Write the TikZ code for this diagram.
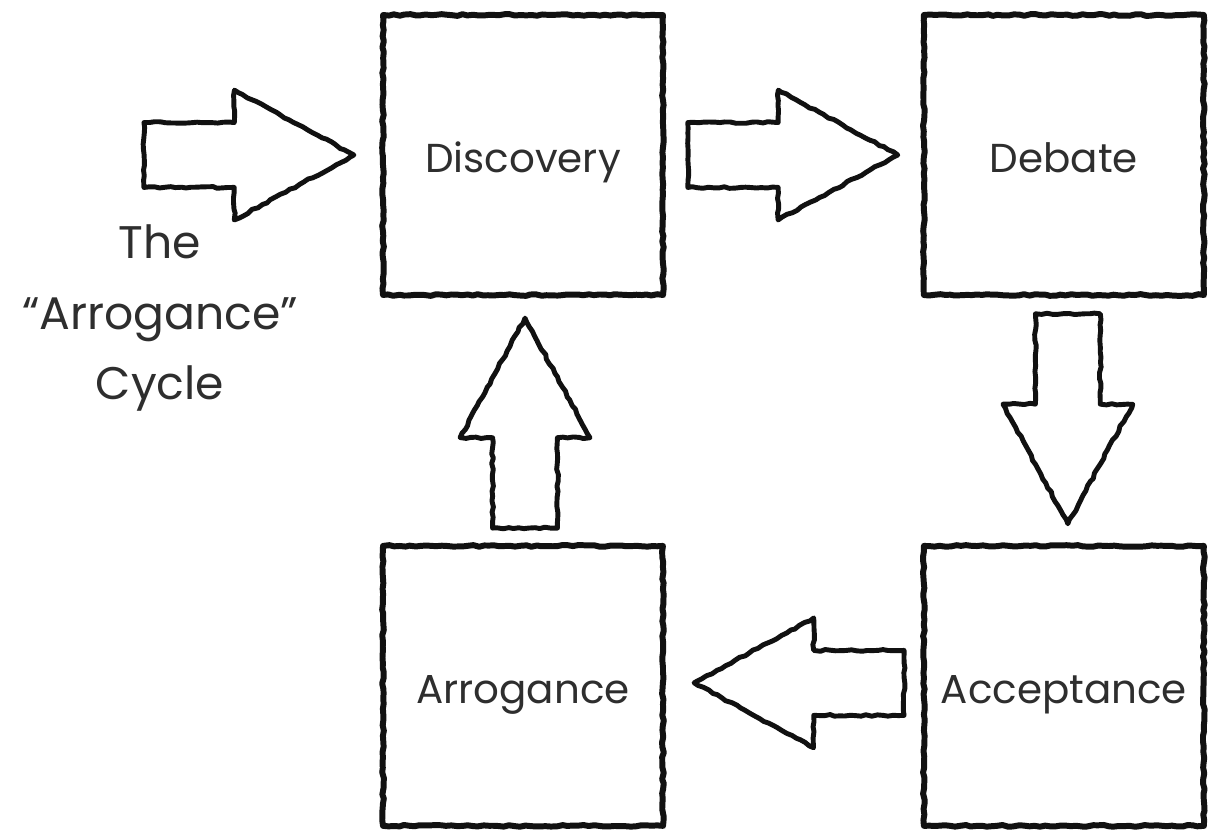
\documentclass[tikz,border=0pt]{standalone}
\usepackage{fontspec}
\setmainfont{Poppins}
\usetikzlibrary{positioning,calc,shapes.arrows,shadows,decorations.pathmorphing}
\definecolor{cInk}{HTML}{111111}
\definecolor{cText}{HTML}{2e2e2e}
\newcommand\boxtxt[1]{\raisebox{-0.36cm}[0pt][0pt]{#1}}
\tikzset{
  rough/.style={decorate,decoration={random steps,segment length=3pt,amplitude=0.5pt}},
  cbox/.style={draw=cInk,line width=3.4pt,line join=round,rough,fill=white,
               minimum width=5.6cm,minimum height=5.6cm,inner sep=0pt,
               text=cText,font=\fontsize{23}{27}\selectfont,
               drop shadow={opacity=0.18,shadow xshift=1.6pt,shadow yshift=-1.6pt}},
  barr/.style={single arrow,draw=cInk,line width=2.8pt,line join=round,rough,fill=white,
               minimum height=4.2cm,minimum width=2.5cm,inner sep=0pt,inner ysep=0.6cm,
               single arrow head extend=0.65cm,single arrow tip angle=57},
  lbl/.style={align=center,text=cText,font=\fontsize{26}{40}\selectfont},
}
\begin{document}
\begin{tikzpicture}[x=0.02cm,y=-0.02cm]
  \useasboundingbox (0,0) rectangle (1211,831);
  % boxes of the cycle
  \node[cbox] (disc) at (523,155) {\boxtxt{Discovery}};
  \node[cbox,right=5.1cm of disc] (deb) {\boxtxt{Debate}};
  \node[cbox,below=4.9cm of deb] (acc) {\boxtxt{Acceptance}};
  \node[cbox,below=4.9cm of disc] (arr) {\boxtxt{Arrogance}};
  % block arrows
  \node[barr,anchor=tip] (a0) at ($(disc.west)+(-0.42cm,0)$) {};
  \node[barr,anchor=tip] (a1) at ($(deb.west)+(-0.36cm,0)$) {};
  \node[barr,anchor=tip,rotate=-90] (a2) at ($(acc.north)+(0.08cm,0.28cm)$) {};
  \node[barr,anchor=tip,rotate=180] (a3) at ($(arr.east)+(0.46cm,0.06cm)$) {};
  \node[barr,anchor=tip,rotate=90] (a4) at ($(disc.south)+(0.04cm,-0.3cm)$) {};
  % title
  \node[lbl] (title) at (160,318) {The\\``Arrogance''\\Cycle};
\end{tikzpicture}
\end{document}
